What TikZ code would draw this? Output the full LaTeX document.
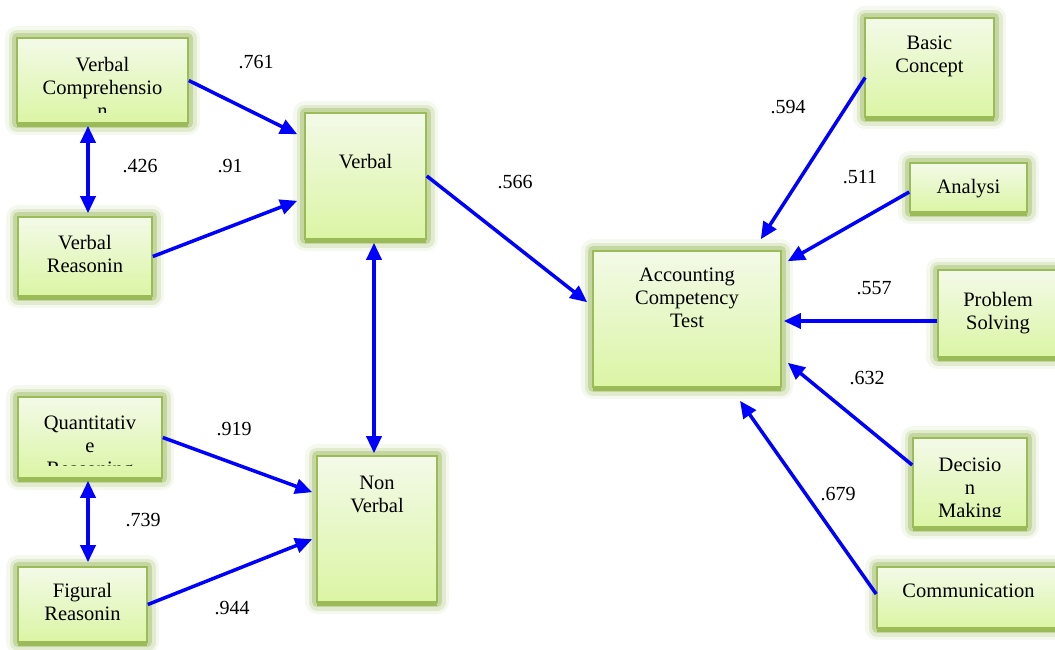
\documentclass[tikz,border=0pt]{standalone}
\usepackage{fontspec}
\setmainfont{Liberation Serif}
\usetikzlibrary{arrows.meta,calc}
\definecolor{glow}{HTML}{9BBB59}
\definecolor{boxtop}{HTML}{F3FAE8}
\definecolor{boxbot}{HTML}{DBF5A4}
\definecolor{arr}{RGB}{0,0,255}
\tikzset{
  box/.style={rectangle, inner sep=0pt, draw=glow, line width=1.6pt,
    top color=boxtop, bottom color=boxbot,
    preaction={draw=glow, line width=24pt, draw opacity=0.10, line join=round},
    preaction={draw=glow, line width=17pt, draw opacity=0.20, line join=round},
    preaction={draw=glow, line width=10pt, draw opacity=0.40, line join=round},
    preaction={fill=glow, transform canvas={yshift=-3.5pt}}},
  txt/.style={font=\fontsize{20.5}{23}\selectfont, align=center, inner sep=0pt, anchor=north},
  lab/.style={font=\fontsize{20}{23}\selectfont, inner sep=0pt},
  conn/.style={draw=arr, line width=3.5pt, -{Triangle[length=17pt,width=15pt]}},
  dconn/.style={draw=arr, line width=3.5pt, {Triangle[length=17pt,width=15pt]}-{Triangle[length=17pt,width=15pt]}}
}
\begin{document}
\begin{tikzpicture}[x=1pt,y=-1pt]
\useasboundingbox (0,0) rectangle (1055,649);
\fill[white] (0,0) rectangle (1055,649);
% boxes
\node[box, minimum width=171pt, minimum height=85pt] (vc) at (102.5,80.5) {};
\node[box, minimum width=134pt, minimum height=79pt] (vr) at (85,256.5) {};
\node[box, minimum width=121pt, minimum height=126pt] (vb) at (365.5,176) {};
\node[box, minimum width=144pt, minimum height=81pt] (qr) at (90,437.5) {};
\node[box, minimum width=129pt, minimum height=75pt] (fr) at (82.5,604.5) {};
\node[box, minimum width=120pt, minimum height=146pt] (nv) at (377,529) {};
\node[box, minimum width=188pt, minimum height=136pt] (act) at (687,319) {};
\node[box, minimum width=129pt, minimum height=99pt] (bc) at (929.5,67.5) {};
\node[box, minimum width=117pt, minimum height=49pt] (an) at (968.5,187.5) {};
\node[box, minimum width=122pt, minimum height=87pt] (ps) at (999,313.5) {};
\node[box, minimum width=114pt, minimum height=89pt] (dm) at (970,482.5) {};
\node[box, minimum width=183pt, minimum height=61pt] (cm) at (968.5,597.5) {};
% texts
\begin{scope}
\clip (17,38) rectangle (188,112);
\node[txt] (vct) at (102.5,57) {Verbal\\Comprehensio\\n};
\end{scope}
\node[txt] (vrt) at (85,235) {Verbal\\Reasonin};
\node[txt] (vbt) at (365.5,154) {Verbal};
\begin{scope}
\clip (18,397) rectangle (162,465);
\node[txt] (qrt) at (90,416) {Quantitativ\\e\\Reasoning};
\end{scope}
\node[txt] (frt) at (82.5,583) {Figural\\Reasonin};
\node[txt] (nvt) at (377,476) {Non\\Verbal};
\node[txt] (actt) at (687,268) {Accounting\\Competency\\Test};
\node[txt] (bct) at (929.5,36) {Basic\\Concept};
\node[txt] (ant) at (968.5,179) {Analysi};
\node[txt] (pst) at (998,292) {Problem\\Solving};
\begin{scope}
\clip (913,438) rectangle (1027,516);
\node[txt] (dmt) at (970,458) {Decisio\\n\\Making};
\end{scope}
\node[txt] (cmt) at (968.5,584) {Communication};
% connectors
\draw[conn] (vc.east) -- ([shift={(-7,22)}]vb.north west);
\draw[conn] (vr.east) -- ([shift={(-7,-39)}]vb.south west);
\draw[dconn] ([shift={(-14.5,2)}]vc.south) -- ([shift={(3,-3)}]vr.north);
\draw[dconn] ([shift={(8.5,3)}]vb.south) -- ([shift={(-3,-2)}]nv.north);
\draw[conn] (qr.east) -- ([shift={(-4,37)}]nv.north west);
\draw[conn] (fr.east) -- ([shift={(-4,84)}]nv.north west);
\draw[dconn] ([shift={(-2,2)}]qr.south) -- ([shift={(5.5,-4)}]fr.north);
\draw[conn] (vb.east) -- ([shift={(-5,52)}]act.north west);
\draw[conn] ([shift={(1,10)}]bc.west) -- ([shift={(-21,-11)}]act.north east);
\draw[conn] ([shift={(0,4.5)}]an.west) -- ([shift={(6,11)}]act.north east);
\draw[conn] ([shift={(0,7.5)}]ps.west) -- ([shift={(2,2)}]act.east);
\draw[conn] ([shift={(0,-17.5)}]dm.west) -- ([shift={(6,-25)}]act.south east);
\draw[conn] ([shift={(0,-3.5)}]cm.west) -- ([shift={(53,13)}]act.south);
% labels
\node[lab] (l1) at (256,62) {.761};
\node[lab] (l2) at (140,166) {.426};
\node[lab] (l3) at (230,166) {.91};
\node[lab] (l4) at (515,182) {.566};
\node[lab] (l5) at (234,429) {.919};
\node[lab] (l6) at (143,520) {.739};
\node[lab] (l7) at (232,608) {.944};
\node[lab] (l8) at (788,107) {.594};
\node[lab] (l9) at (860,177) {.511};
\node[lab] (l10) at (874,288) {.557};
\node[lab] (l11) at (867,378) {.632};
\node[lab] (l12) at (838,494) {.679};
\end{tikzpicture}
\end{document}
